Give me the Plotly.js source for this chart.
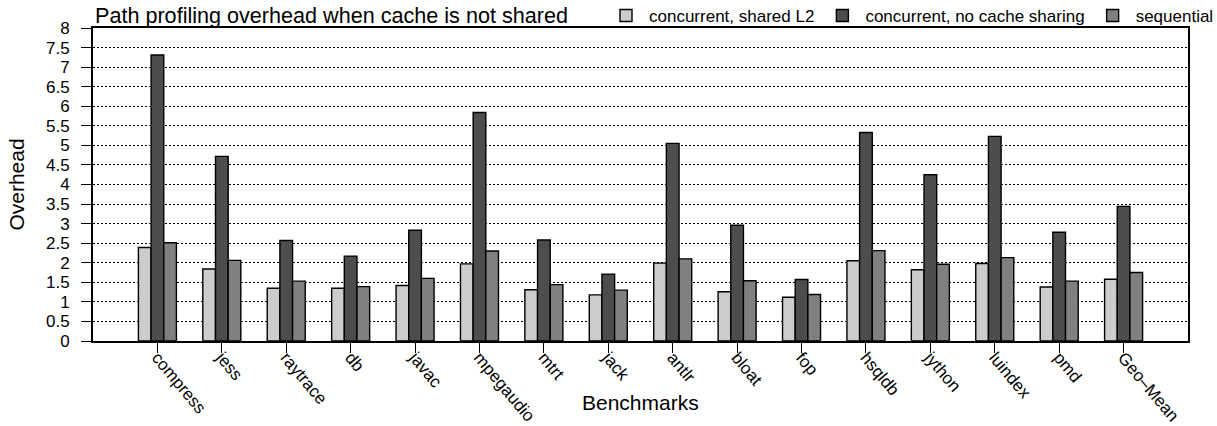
<!DOCTYPE html>
<html>
<head>
<meta charset="utf-8">
<script src="https://cdn.plot.ly/plotly-3.0.1.min.js"></script>
<style>html,body{margin:0;padding:0;background:#fff;}#chart{width:1217px;height:426px;}</style>
</head>
<body>
<div id="chart"></div>
<script>
const benchmarks = ["compress","jess","raytrace","db","javac","mpegaudio","mtrt","jack","antlr","bloat","fop","hsqldb","jython","luindex","pmd","Geo\u2013Mean"];
const sharedL2 = [2.39,1.84,1.35,1.35,1.42,1.97,1.31,1.18,1.99,1.26,1.12,2.05,1.82,1.98,1.38,1.58];
const noSharing = [7.31,4.72,2.57,2.17,2.83,5.84,2.58,1.71,5.05,2.96,1.57,5.33,4.25,5.23,2.78,3.44];
const sequential = [2.51,2.06,1.53,1.39,1.60,2.30,1.44,1.30,2.10,1.54,1.19,2.31,1.96,2.13,1.53,1.75];
const yTicks = [0,0.5,1,1.5,2,2.5,3,3.5,4,4.5,5,5.5,6,6.5,7,7.5,8];

const FONT = "Liberation Sans, Arial, sans-serif";
const mk = (name, y, color) => ({
  type: "bar", name: name, x: benchmarks, y: y,
  marker: {color: color, line: {color: "#000", width: 1.4}}
});
const data = [
  mk("concurrent, shared L2", sharedL2, "#cccccc"),
  mk("concurrent, no cache sharing", noSharing, "#4d4d4d"),
  mk("sequential", sequential, "#808080")
];
const L = 93, R = 29, T = 28, B = 85, W = 1217, H = 426;
const layout = {
  width: W, height: H,
  margin: {l: L, r: R, t: T, b: B, autoexpand: false},
  paper_bgcolor: "#fff", plot_bgcolor: "#fff",
  font: {family: FONT, color: "#000", size: 17},
  title: {text: "Path profiling overhead when cache is not shared",
          xref: "container", x: 95/W, xanchor: "left",
          yref: "container", y: 1 - 8/H, yanchor: "top",
          pad: {t: 0, b: 0, l: 0, r: 0}, automargin: false,
          font: {size: 21.6, family: FONT}},
  bargap: 0.41, bargroupgap: 0,
  showlegend: true,
  legend: {orientation: "h", xref: "paper", x: (W - L + 2) / (W - L - R), xanchor: "right",
           yref: "paper", y: (H - B + 2) / (H - T - B), yanchor: "top", itemwidth: 36,
           font: {size: 17, family: FONT}, bgcolor: "rgba(0,0,0,0)", traceorder: "normal"},
  annotations: [{text: "Benchmarks", xref: "paper", yref: "paper", x: 0.5, xanchor: "center",
                 y: -(403 - (H - B)) / (H - T - B), yanchor: "middle", showarrow: false,
                 font: {size: 21, family: FONT, color: "#000"}}],
  xaxis: {
    type: "category", range: [-1, 16], tickangle: 50,
    showline: true, linecolor: "#000", linewidth: 2, mirror: true,
    ticks: "outside", ticklen: 10, tickcolor: "#000", tickwidth: 1,
    ticklabelstandoff: -12,
    showgrid: false, tickfont: {size: 17, family: FONT}
  },
  yaxis: {
    range: [0, 8], tickvals: yTicks, ticktext: yTicks.map(String),
    showline: true, linecolor: "#000", linewidth: 2, mirror: true,
    ticks: "outside", ticklen: 10, tickcolor: "#000", tickwidth: 1,
    ticklabelstandoff: 8,
    showgrid: true, gridcolor: "#000", gridwidth: 1, griddash: "2px,2px",
    zeroline: false, tickfont: {size: 17, family: FONT},
    title: {text: "Overhead", font: {size: 21, family: FONT}, standoff: 16}
  }
};
Plotly.newPlot("chart", data, layout, {displayModeBar: false, staticPlot: true});
</script>
</body>
</html>
